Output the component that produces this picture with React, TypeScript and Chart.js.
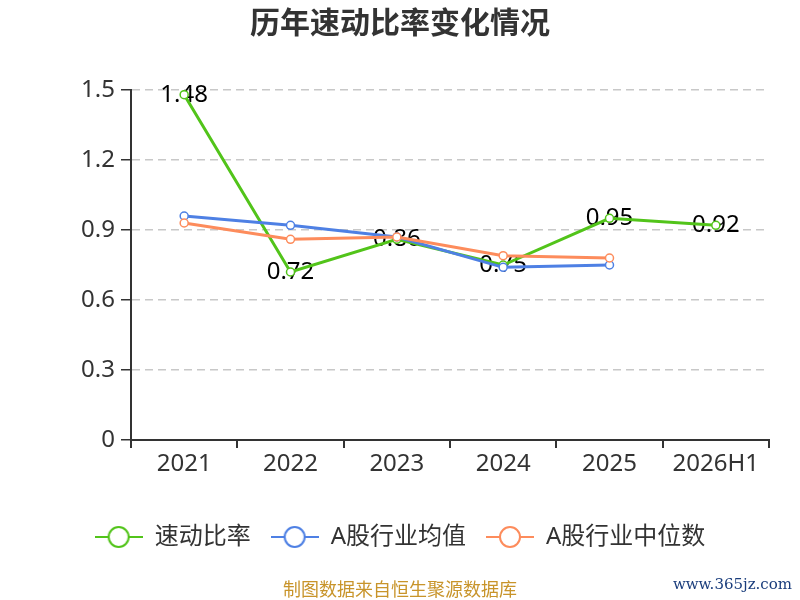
import { useEffect, useRef } from "react";
import { Chart, registerables } from "chart.js";

Chart.register(...registerables);

const years = ["2021", "2022", "2023", "2024", "2025", "2026H1"];
const quickRatio = [1.48, 0.72, 0.86, 0.75, 0.95, 0.92];
const industryAvg = [0.96, 0.92, 0.87, 0.74, 0.75, null];
const industryMedian = [0.93, 0.86, 0.87, 0.79, 0.78, null];
const yTicks = [0, 0.3, 0.6, 0.9, 1.2, 1.5];

const GREEN = "#52c41a";
const BLUE = "#4e80e4";
const ORANGE = "#fd8c5c";
const COLORS = [GREEN, BLUE, ORANGE];
const FONT = '"Noto Sans", "Noto Sans CJK SC", sans-serif';

// legend icon: a short line with a hollow circle on it
const legendIcon = (color: string) => {
  const c = document.createElement("canvas");
  c.width = 48;
  c.height = 24;
  const ctx = c.getContext("2d")!;
  ctx.strokeStyle = color;
  ctx.lineWidth = 2;
  ctx.beginPath();
  ctx.moveTo(0, 12);
  ctx.lineTo(48, 12);
  ctx.stroke();
  ctx.beginPath();
  ctx.arc(24, 12, 10, 0, Math.PI * 2);
  ctx.fillStyle = "#fff";
  ctx.fill();
  ctx.stroke();
  return c;
};

// value labels for the first series, drawn under the lines
const valueLabels = {
  id: "valueLabels",
  beforeDatasetsDraw(chart: Chart) {
    const ctx = chart.ctx;
    const meta = chart.getDatasetMeta(0);
    ctx.save();
    ctx.font = `24px ${FONT}`;
    ctx.fillStyle = "#000";
    ctx.textAlign = "center";
    ctx.textBaseline = "middle";
    meta.data.forEach((pt, i) => {
      const v = quickRatio[i];
      if (v == null) return;
      ctx.fillText(v.toFixed(2), pt.x, pt.y);
    });
    ctx.restore();
  },
};

const App = () => {
  const chartRef = useRef<HTMLCanvasElement>(null);
  const chartInstanceRef = useRef<Chart | null>(null);

  useEffect(() => {
    if (!chartRef.current) return;
    const ctx = chartRef.current.getContext("2d");
    if (!ctx) return;
    if (chartInstanceRef.current) chartInstanceRef.current.destroy();

    const icons = COLORS.map(legendIcon);

    const lineSet = (label: string, data: (number | null)[], color: string, order: number) => ({
      label,
      data,
      borderColor: color,
      backgroundColor: "#fff",
      borderWidth: 3,
      pointRadius: 4,
      pointBorderWidth: 1.5,
      pointBackgroundColor: "#fff",
      pointBorderColor: color,
      pointStyle: "circle",
      order,
    });

    chartInstanceRef.current = new Chart(ctx, {
      type: "line",
      data: {
        labels: years,
        datasets: [
          lineSet("速动比率", quickRatio, GREEN, 3),
          lineSet("A股行业均值", industryAvg, BLUE, 2),
          lineSet("A股行业中位数", industryMedian, ORANGE, 1),
        ],
      },
      options: {
        responsive: false,
        animation: false,
        layout: { padding: { left: 31, right: 31, top: 0, bottom: 41 } },
        scales: {
          x: {
            offset: true,
            afterFit: (s) => {
              s.height = 65;
            },
            grid: {
              offset: true,
              drawOnChartArea: false,
              color: "#333",
              lineWidth: 2,
              tickLength: 8,
            },
            border: { color: "#333", width: 2 },
            ticks: { color: "#333", font: { family: FONT, size: 24 }, padding: 2 },
          },
          y: {
            min: 0,
            max: 1.5,
            afterFit: (s) => {
              s.width = 100;
            },
            afterBuildTicks: (s) => {
              s.ticks = yTicks.map((v) => ({ value: v }));
            },
            grid: {
              color: (c) => (c.tick && c.tick.value === 0 ? "rgba(0,0,0,0)" : "#c8c8c8"),
              lineWidth: 1.5,
              tickBorderDash: [],
              tickColor: "#333",
              tickLength: 10,
            },
            border: { color: "#333", width: 2, dash: [8, 5] },
            ticks: {
              color: "#333",
              font: { family: FONT, size: 24 },
              padding: 6,
              callback: (v) => String(Number(v)),
            },
          },
        },
        plugins: {
          title: {
            display: true,
            text: "历年速动比率变化情况",
            color: "#333",
            font: { family: FONT, size: 30, weight: "bold" },
            padding: { top: 6, bottom: 48 },
          },
          legend: {
            position: "bottom",
            labels: {
              usePointStyle: true,
              pointStyleWidth: 48,
              color: "#333",
              font: { family: FONT, size: 24 },
              padding: 20,
              sort: (a, b) => (a.datasetIndex ?? 0) - (b.datasetIndex ?? 0),
              generateLabels: (chart) =>
                Chart.defaults.plugins.legend.labels
                  .generateLabels(chart)
                  .map((item) => ({ ...item, pointStyle: icons[item.datasetIndex ?? 0] as any })),
            },
          },
          tooltip: { enabled: false },
        },
      },
      plugins: [valueLabels],
    });

    return () => {
      if (chartInstanceRef.current) {
        chartInstanceRef.current.destroy();
        chartInstanceRef.current = null;
      }
    };
  }, []);

  return (
    <div style={{ position: "fixed", left: 0, top: 0, width: 800, height: 600, background: "#fff" }}>
      <canvas ref={chartRef} width={800} height={600} />
      <div
        style={{
          position: "absolute",
          left: 0,
          width: 800,
          top: 578,
          textAlign: "center",
          fontFamily: FONT,
          fontSize: 18,
          lineHeight: "22px",
          color: "#c8942a",
        }}
      >
        制图数据来自恒生聚源数据库
      </div>
      <div
        style={{
          position: "absolute",
          right: 8,
          top: 574,
          fontFamily: '"DejaVu Serif", "Liberation Serif", serif',
          fontSize: 15,
          lineHeight: "20px",
          color: "#1a3d7c",
        }}
      >
        www.365jz.com
      </div>
    </div>
  );
};

export default App;
